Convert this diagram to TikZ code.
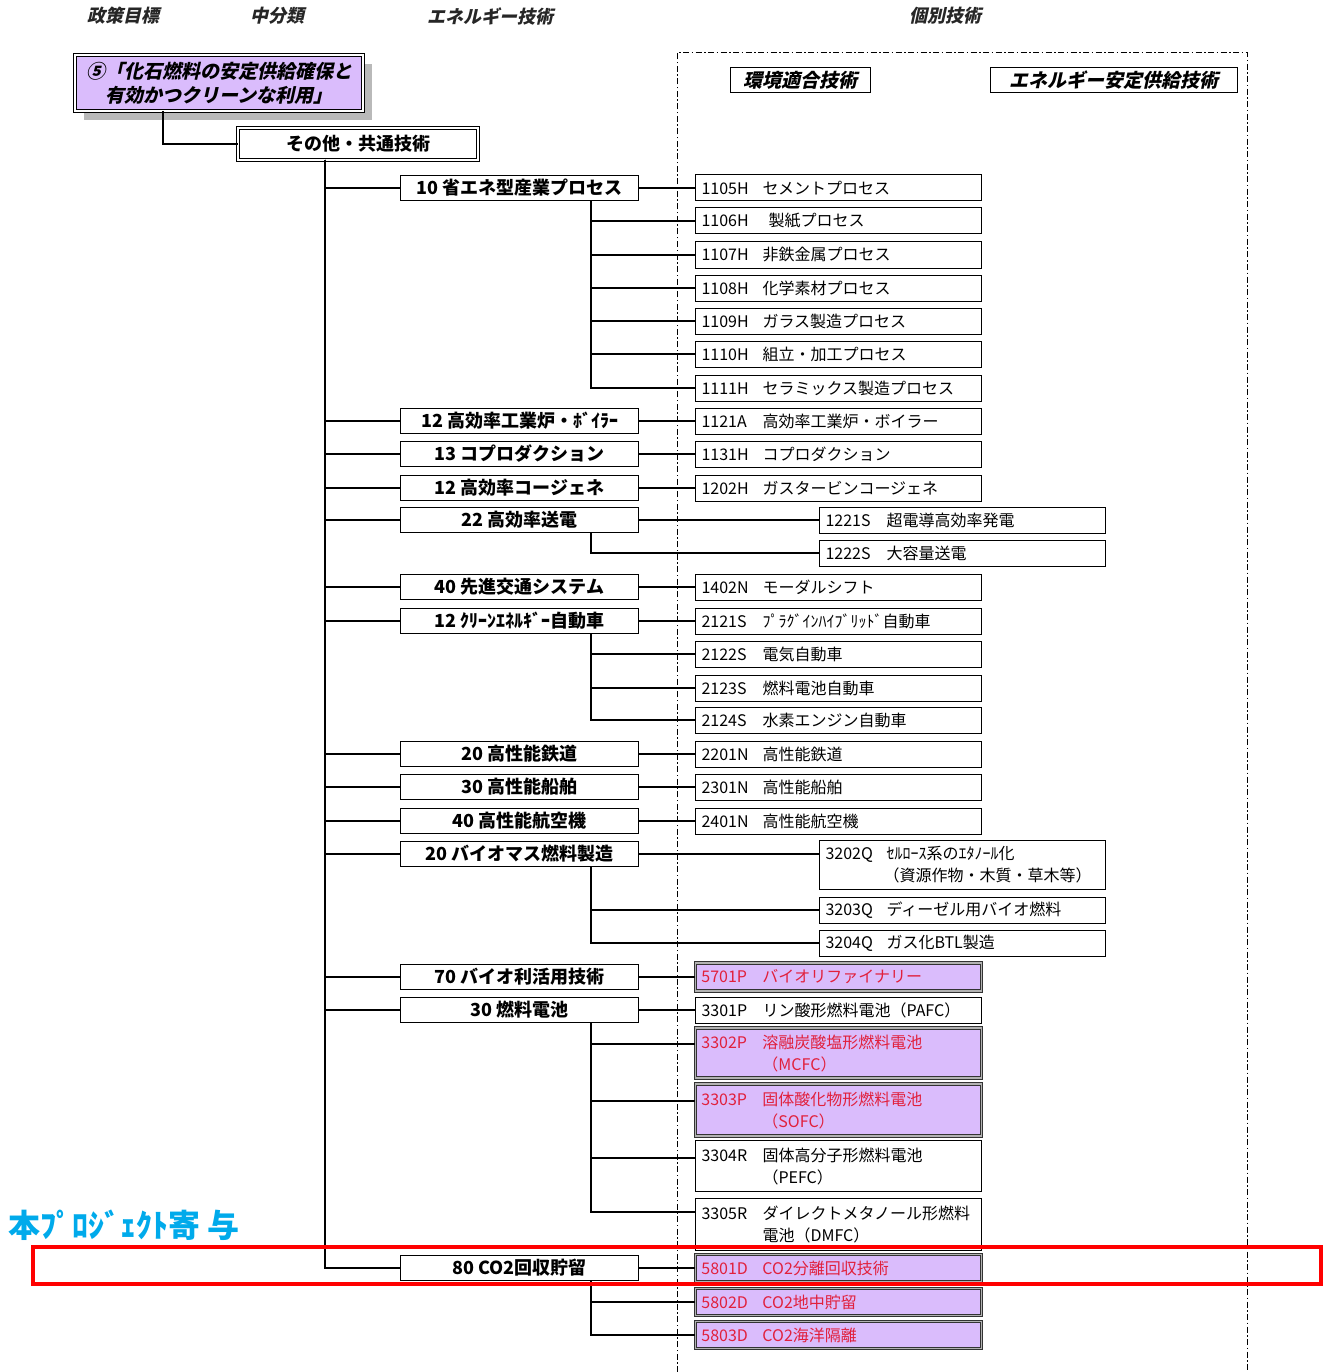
\documentclass[tikz,border=0pt]{standalone}
\usepackage{fontspec}
\setmainfont{Noto Sans CJK JP}
\newfontfamily\jpsl[FakeSlant=0.22]{Noto Sans CJK JP}
\usetikzlibrary{shadows}
\definecolor{lav}{RGB}{218,188,252}
\definecolor{hred}{RGB}{225,32,60}
\definecolor{cyanb}{RGB}{0,170,235}
\newcommand\tcode[1]{\makebox[61pt][l]{#1}}
\begin{document}
\begin{tikzpicture}[x=1pt,y=-1pt,line width=1.2pt,
  hdr/.style={font=\jpsl\bfseries\fontsize{18}{20}\selectfont, text=black!85, inner sep=0pt},
  lbox/.style={draw, fill=white, line width=1.2pt, minimum width=238pt, minimum height=25pt, inner sep=0pt, anchor=west, font=\fontsize{18}{20}\selectfont\bfseries},
  rbox/.style={draw, fill=white, line width=1pt, minimum height=26pt, text width=274pt, inner xsep=6pt, inner ysep=0pt, align=left, anchor=west, font=\fontsize{16}{22}\selectfont},
  two/.style={minimum height=#1},
  hl/.style={fill=lav, text=hred, draw=black!80, double=gray!60, double distance=1.6pt, line width=0.9pt},
  lbl/.style={draw, line width=1pt, minimum height=25pt, inner sep=0pt, font=\jpsl\bfseries\fontsize{19}{21}\selectfont},
  frame/.style={line width=1pt, dash pattern=on 6pt off 2.5pt on 1.5pt off 2.5pt},
]
\useasboundingbox (0,0) rectangle (1327,1372);

% headers
\node[hdr] (h1) at (123,16) {政策目標};
\node[hdr] (h2) at (277,16) {中分類};
\node[hdr] (h3) at (490,16) {エネルギー技術};
\node[hdr] (h4) at (945,16) {個別技術};

% dash-dot frame
\coordinate (fa) at (677,1372);
\coordinate (fb) at (677,53);
\coordinate (fc) at (1247,53);
\coordinate (fd) at (1247,1372);
\draw[frame] (fa) -- (fb) -- (fc) -- (fd);
\node[lbl, minimum width=140pt] (k1) at (800,80) {環境適合技術};
\node[lbl, minimum width=247pt] (k2) at (1113.5,80) {エネルギー安定供給技術};

% top boxes
\node[draw, fill=lav, double, double distance=2pt, line width=0.9pt, minimum width=288pt, minimum height=56pt, inner sep=0pt, align=center,
  font=\jpsl\bfseries\fontsize{19}{24}\selectfont,
  drop shadow={shadow xshift=9pt, shadow yshift=-9pt, fill=gray!55, opacity=1}] (top) at (219,83)
  {⑤「化石燃料の安定供給確保と\\有効かつクリーンな利用」};
\node[draw, fill=white, double, double distance=2pt, line width=0.9pt, minimum width=240pt, minimum height=32pt, inner sep=0pt,
  font=\fontsize{18}{20}\selectfont\bfseries] (oth) at (358,144) {その他・共通技術};

% left column
\node[lbox] (b10)  at (400,188)  {10 省エネ型産業プロセス};
\node[lbox] (b12a) at (400,421)  {12 高効率工業炉・ﾎﾞｲﾗｰ};
\node[lbox] (b13)  at (400,454)  {13 コプロダクション};
\node[lbox] (b12b) at (400,488)  {12 高効率コージェネ};
\node[lbox] (b22)  at (400,520)  {22 高効率送電};
\node[lbox] (b40a) at (400,587)  {40 先進交通システム};
\node[lbox] (b12c) at (400,621)  {12 ｸﾘｰﾝｴﾈﾙｷﾞｰ自動車};
\node[lbox] (b20a) at (400,754)  {20 高性能鉄道};
\node[lbox] (b30a) at (400,787)  {30 高性能船舶};
\node[lbox] (b40b) at (400,821)  {40 高性能航空機};
\node[lbox] (b20b) at (400,854)  {20 バイオマス燃料製造};
\node[lbox] (b70)  at (400,977)  {70 バイオ利活用技術};
\node[lbox] (b30b) at (400,1010) {30 燃料電池};
\node[lbox] (b80)  at (400,1268) {80 CO2回収貯留};

% right column A
\node[rbox] (r1105) at (695,188) {\tcode{1105H}セメントプロセス};
\node[rbox] (r1106) at (695,221) {\tcode{1106H}\hspace{6pt}製紙プロセス};
\node[rbox] (r1107) at (695,255) {\tcode{1107H}非鉄金属プロセス};
\node[rbox] (r1108) at (695,288) {\tcode{1108H}化学素材プロセス};
\node[rbox] (r1109) at (695,321) {\tcode{1109H}ガラス製造プロセス};
\node[rbox] (r1110) at (695,354) {\tcode{1110H}組立・加工プロセス};
\node[rbox] (r1111) at (695,388) {\tcode{1111H}セラミックス製造プロセス};
\node[rbox] (r1121) at (695,421) {\tcode{1121A}高効率工業炉・ボイラー};
\node[rbox] (r1131) at (695,454) {\tcode{1131H}コプロダクション};
\node[rbox] (r1202) at (695,488) {\tcode{1202H}ガスタービンコージェネ};
\node[rbox] (r1402) at (695,587) {\tcode{1402N}モーダルシフト};
\node[rbox] (r2121) at (695,621) {\tcode{2121S}ﾌﾟﾗｸﾞｲﾝﾊｲﾌﾞﾘｯﾄﾞ自動車};
\node[rbox] (r2122) at (695,654) {\tcode{2122S}電気自動車};
\node[rbox] (r2123) at (695,688) {\tcode{2123S}燃料電池自動車};
\node[rbox] (r2124) at (695,720) {\tcode{2124S}水素エンジン自動車};
\node[rbox] (r2201) at (695,754) {\tcode{2201N}高性能鉄道};
\node[rbox] (r2301) at (695,787) {\tcode{2301N}高性能船舶};
\node[rbox] (r2401) at (695,821) {\tcode{2401N}高性能航空機};
\node[rbox,hl,minimum height=28pt] (r5701) at (695,977) {\tcode{5701P}バイオリファイナリー};
\node[rbox] (r3301) at (695,1010) {\tcode{3301P}リン酸形燃料電池（PAFC）};
\node[rbox,hl,two=50pt] (r3302) at (695,1053) {\tcode{3302P}溶融炭酸塩形燃料電池\\\hspace*{61pt}（MCFC）};
\node[rbox,hl,two=52pt] (r3303) at (695,1110) {\tcode{3303P}固体酸化物形燃料電池\\\hspace*{61pt}（SOFC）};
\node[rbox,two=51pt] (r3304) at (695,1166) {\tcode{3304R}固体高分子形燃料電池\\\hspace*{61pt}（PEFC）};
\node[rbox,two=52pt] (r3305) at (695,1224) {\tcode{3305R}ダイレクトメタノール形燃料\\\hspace*{61pt}電池（DMFC）};
\node[rbox,hl,minimum height=27pt] (r5801) at (695,1268) {\tcode{5801D}CO2分離回収技術};
\node[rbox,hl,minimum height=27pt] (r5802) at (695,1302) {\tcode{5802D}CO2地中貯留};
\node[rbox,hl,minimum height=27pt] (r5803) at (695,1335) {\tcode{5803D}CO2海洋隔離};

% right column B
\node[rbox] (r1221) at (819,520) {\tcode{1221S}超電導高効率発電};
\node[rbox] (r1222) at (819,553) {\tcode{1222S}大容量送電};
\node[rbox,two=49pt] (r3202) at (819,864.5) {\tcode{3202Q}ｾﾙﾛｰｽ系のｴﾀﾉｰﾙ化\\\hspace*{58pt}（資源作物・木質・草木等）};
\node[rbox] (r3203) at (819,910) {\tcode{3203Q}ディーゼル用バイオ燃料};
\node[rbox] (r3204) at (819,943) {\tcode{3204Q}ガス化BTL製造};

% helper coordinates
\coordinate (c1) at (163,111);
\coordinate (tr) at (325,160);
\coordinate (sx) at (591,0);
\coordinate (y1) at (0,1044);
\coordinate (y2) at (0,1101);
\coordinate (y3) at (0,1158);
\coordinate (y4) at (0,1212);

% connectors
\draw (c1) |- (oth.west);
\foreach \n in {b10,b12a,b13,b12b,b22,b40a,b12c,b20a,b30a,b40b,b20b,b70,b30b,b80}
  \draw (tr) |- (\n.west);
\draw (b10.east) -- (r1105.west);
\foreach \n in {r1106,r1107,r1108,r1109,r1110,r1111}
  \draw (b10.south -| sx) |- (\n.west);
\draw (b12a.east) -- (r1121.west);
\draw (b13.east) -- (r1131.west);
\draw (b12b.east) -- (r1202.west);
\draw (b22.east) -- (r1221.west);
\draw (b22.south -| sx) |- (r1222.west);
\draw (b40a.east) -- (r1402.west);
\draw (b12c.east) -- (r2121.west);
\foreach \n in {r2122,r2123,r2124}
  \draw (b12c.south -| sx) |- (\n.west);
\draw (b20a.east) -- (r2201.west);
\draw (b30a.east) -- (r2301.west);
\draw (b40b.east) -- (r2401.west);
\draw (b20b.east) -- (b20b.east -| r3202.west);
\draw (b20b.south -| sx) |- (r3203.west);
\draw (b20b.south -| sx) |- (r3204.west);
\draw (b70.east) -- (r5701.west);
\draw (b30b.east) -- (r3301.west);
\draw (b30b.south -| sx) |- (r3302.west |- y1);
\draw (b30b.south -| sx) |- (r3303.west |- y2);
\draw (b30b.south -| sx) |- (r3304.west |- y3);
\draw (b30b.south -| sx) |- (r3305.west |- y4);
\draw (b80.east) -- (r5801.west);
\draw (b80.south -| sx) |- (r5802.west);
\draw (b80.south -| sx) |- (r5803.west);

% highlight
\node[anchor=west, inner sep=0pt, text=cyanb, font=\fontsize{32}{34}\selectfont\bfseries] (pj) at (8,1225) {本ﾌﾟﾛｼﾞｪｸﾄ寄 与};
\node[draw=red, line width=4pt, minimum width=1288pt, minimum height=37pt, inner sep=0pt] (hlbox) at (677,1265.5) {};
\end{tikzpicture}
\end{document}
